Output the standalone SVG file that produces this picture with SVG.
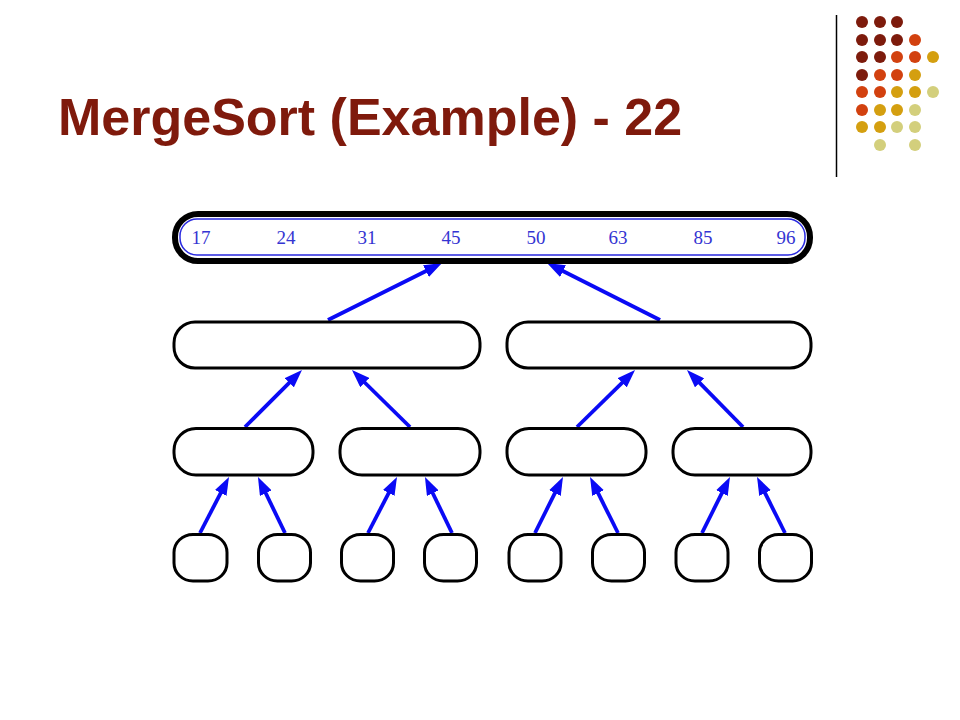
<svg xmlns="http://www.w3.org/2000/svg" width="960" height="720" viewBox="0 0 960 720">
<style>
.title{font-family:"Liberation Sans",Arial,sans-serif;font-weight:bold;font-size:52px;fill:#7f1a0c}
.num{font-family:"Liberation Serif","Times New Roman",serif;font-size:19px;fill:#3434d2;text-anchor:middle}
.box{fill:#fff;stroke:#000;stroke-width:3}
.edge{stroke:#0a0af5;stroke-width:3.8;fill:none;marker-end:url(#ah)}
.d1{fill:#7d1b0c}.d2{fill:#d2410f}.d3{fill:#d49f10}.d4{fill:#d3cf7c}
</style>
<defs>
<marker id="ah" markerUnits="userSpaceOnUse" markerWidth="18" markerHeight="13" viewBox="0 0 18 13" refX="8" refY="6.5" orient="auto">
<path d="M0,0 L18,6.5 L0,13 z" fill="#0a0af5"/>
</marker>
</defs>
<rect width="960" height="720" fill="#fff"/>
<g id="decor">
<line x1="836.5" y1="15" x2="836.5" y2="177" stroke="#000" stroke-width="1.5"/>
<circle class="d1" cx="862" cy="22" r="6"/><circle class="d1" cx="880" cy="22" r="6"/><circle class="d1" cx="897" cy="22" r="6"/>
<circle class="d1" cx="862" cy="40" r="6"/><circle class="d1" cx="880" cy="40" r="6"/><circle class="d1" cx="897" cy="40" r="6"/><circle class="d2" cx="915" cy="40" r="6"/>
<circle class="d1" cx="862" cy="57" r="6"/><circle class="d1" cx="880" cy="57" r="6"/><circle class="d2" cx="897" cy="57" r="6"/><circle class="d2" cx="915" cy="57" r="6"/><circle class="d3" cx="933" cy="57" r="6"/>
<circle class="d1" cx="862" cy="75" r="6"/><circle class="d2" cx="880" cy="75" r="6"/><circle class="d2" cx="897" cy="75" r="6"/><circle class="d3" cx="915" cy="75" r="6"/>
<circle class="d2" cx="862" cy="92" r="6"/><circle class="d2" cx="880" cy="92" r="6"/><circle class="d3" cx="897" cy="92" r="6"/><circle class="d3" cx="915" cy="92" r="6"/><circle class="d4" cx="933" cy="92" r="6"/>
<circle class="d2" cx="862" cy="110" r="6"/><circle class="d3" cx="880" cy="110" r="6"/><circle class="d3" cx="897" cy="110" r="6"/><circle class="d4" cx="915" cy="110" r="6"/>
<circle class="d3" cx="862" cy="127" r="6"/><circle class="d3" cx="880" cy="127" r="6"/><circle class="d4" cx="897" cy="127" r="6"/><circle class="d4" cx="915" cy="127" r="6"/>
<circle class="d4" cx="880" cy="145" r="6"/><circle class="d4" cx="915" cy="145" r="6"/>
</g>
<text class="title" x="58" y="135">MergeSort (Example) - 22</text>
<g id="connectors">
<line class="edge" x1="328" y1="320" x2="433.1" y2="267.5"/>
<line class="edge" x1="660" y1="320" x2="555.9" y2="267.5"/>
<line class="edge" x1="245" y1="427" x2="294.9" y2="377.1"/>
<line class="edge" x1="410" y1="427" x2="359.1" y2="377"/>
<line class="edge" x1="577" y1="427" x2="627.9" y2="377.1"/>
<line class="edge" x1="743" y1="427" x2="694" y2="377.1"/>
<line class="edge" x1="200" y1="533" x2="224.4" y2="485.9"/>
<line class="edge" x1="285" y1="533" x2="262.3" y2="486"/>
<line class="edge" x1="368" y1="533" x2="392.4" y2="485.9"/>
<line class="edge" x1="452" y1="533" x2="429.3" y2="486"/>
<line class="edge" x1="535" y1="533" x2="558.5" y2="485.9"/>
<line class="edge" x1="618" y1="533" x2="594.5" y2="485.9"/>
<line class="edge" x1="702" y1="533" x2="725.5" y2="485.9"/>
<line class="edge" x1="785" y1="533" x2="761.5" y2="485.9"/>
</g>
<g id="root">
<rect x="175" y="214" width="635" height="47" rx="23" fill="#fff" stroke="#000" stroke-width="6"/>
<rect x="180" y="219" width="625" height="36" rx="17" fill="#fff" stroke="#2a2ae0" stroke-width="1.5"/>
<text class="num" x="201" y="244">17</text>
<text class="num" x="286" y="244">24</text>
<text class="num" x="367" y="244">31</text>
<text class="num" x="451" y="244">45</text>
<text class="num" x="536" y="244">50</text>
<text class="num" x="618" y="244">63</text>
<text class="num" x="703" y="244">85</text>
<text class="num" x="786" y="244">96</text>
</g>
<g id="n2a"><rect class="box" x="174" y="322" width="306" height="46" rx="21"/></g>
<g id="n2b"><rect class="box" x="507" y="322" width="304" height="46" rx="21"/></g>
<g id="n3a"><rect class="box" x="174" y="428.5" width="139" height="46.5" rx="22"/></g>
<g id="n3b"><rect class="box" x="340" y="428.5" width="140" height="46.5" rx="22"/></g>
<g id="n3c"><rect class="box" x="507" y="428.5" width="139" height="46.5" rx="22"/></g>
<g id="n3d"><rect class="box" x="673" y="428.5" width="138" height="46.5" rx="22"/></g>
<g id="l1"><rect class="box" x="174" y="534.5" width="53" height="46.5" rx="19" ry="18"/></g>
<g id="l2"><rect class="box" x="258.5" y="534.5" width="52" height="46.5" rx="19" ry="18"/></g>
<g id="l3"><rect class="box" x="341.5" y="534.5" width="52" height="46.5" rx="19" ry="18"/></g>
<g id="l4"><rect class="box" x="424.5" y="534.5" width="52" height="46.5" rx="19" ry="18"/></g>
<g id="l5"><rect class="box" x="509" y="534.5" width="52" height="46.5" rx="19" ry="18"/></g>
<g id="l6"><rect class="box" x="592.5" y="534.5" width="52" height="46.5" rx="19" ry="18"/></g>
<g id="l7"><rect class="box" x="676" y="534.5" width="52" height="46.5" rx="19" ry="18"/></g>
<g id="l8"><rect class="box" x="759.5" y="534.5" width="52" height="46.5" rx="19" ry="18"/></g>
</svg>
